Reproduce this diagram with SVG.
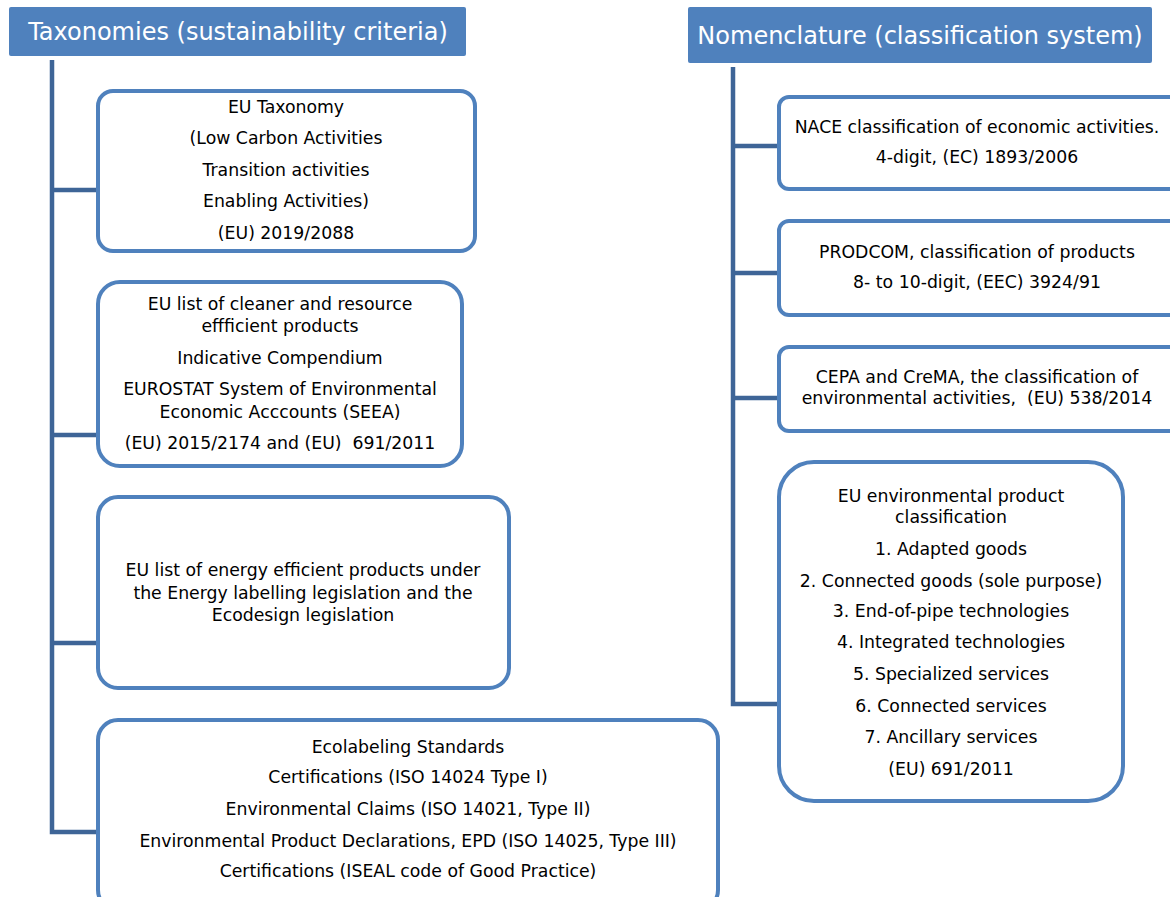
<svg xmlns="http://www.w3.org/2000/svg" width="1170" height="897" viewBox="0 0 1170 897">
<style>
.hdr{fill:#4F81BD}
.hdrt{fill:#fff;font-family:"DejaVu Sans","Open Sans",sans-serif;font-size:24px;text-anchor:middle}
.box{fill:#fff;stroke:#4F81BD;stroke-width:4}
.t{fill:#000;font-family:"DejaVu Sans","Open Sans",sans-serif;font-size:17.3px;text-anchor:middle}
.con{fill:none;stroke:#3E6597;stroke-width:4.5}
</style>
<rect width="1170" height="897" fill="#fff"/>
<g id="connectors">
<path class="con" d="M52,60 V832 H98"/>
<path class="con" d="M52,190 H98 M52,435 H98 M52,643 H98"/>
<path class="con" d="M733,67 V704 H779"/>
<path class="con" d="M733,146 H779 M733,273 H779 M733,398 H779"/>
</g>
<g id="hdr-left">
<rect class="hdr" x="9" y="7" width="457" height="49" rx="2"/>
<text class="hdrt" x="238" y="40">Taxonomies (sustainability criteria)</text>
</g>
<g id="hdr-right">
<rect class="hdr" x="688" y="7" width="464" height="56" rx="2"/>
<text class="hdrt" x="920" y="44">Nomenclature (classification system)</text>
</g>
<g id="eu-taxonomy">
<rect class="box" x="98" y="91" width="377" height="160" rx="15"/>
<text class="t" x="286" y="113">EU Taxonomy</text>
<text class="t" x="286" y="144">(Low Carbon Activities</text>
<text class="t" x="286" y="176">Transition activities</text>
<text class="t" x="286" y="207">Enabling Activities)</text>
<text class="t" x="286" y="239">(EU) 2019/2088</text>
</g>
<g id="eu-cleaner">
<rect class="box" x="98" y="282" width="364" height="184" rx="22"/>
<text class="t" x="280" y="310">EU list of cleaner and resource</text>
<text class="t" x="280" y="332">effficient products</text>
<text class="t" x="280" y="364">Indicative Compendium</text>
<text class="t" x="280" y="395">EUROSTAT System of Environmental</text>
<text class="t" x="280" y="418">Economic Acccounts (SEEA)</text>
<text class="t" x="280" y="449" xml:space="preserve">(EU) 2015/2174 and (EU)  691/2011</text>
</g>
<g id="eu-energy">
<rect class="box" x="98" y="497" width="411" height="191" rx="20"/>
<text class="t" x="303" y="576">EU list of energy efficient products under</text>
<text class="t" x="303" y="599">the Energy labelling legislation and the</text>
<text class="t" x="303" y="621">Ecodesign legislation</text>
</g>
<g id="ecolabel">
<rect class="box" x="98" y="720" width="620" height="190" rx="20"/>
<text class="t" x="408" y="753">Ecolabeling Standards</text>
<text class="t" x="408" y="783">Certifications (ISO 14024 Type I)</text>
<text class="t" x="408" y="815">Environmental Claims (ISO 14021, Type II)</text>
<text class="t" x="408" y="847">Environmental Product Declarations, EPD (ISO 14025, Type III)</text>
<text class="t" x="408" y="877">Certifications (ISEAL code of Good Practice)</text>
</g>
<g id="nace">
<rect class="box" x="779" y="97" width="420" height="92" rx="10"/>
<text class="t" x="977" y="133">NACE classification of economic activities.</text>
<text class="t" x="977" y="163">4-digit, (EC) 1893/2006</text>
</g>
<g id="prodcom">
<rect class="box" x="779" y="221" width="420" height="94" rx="10"/>
<text class="t" x="977" y="258">PRODCOM, classification of products</text>
<text class="t" x="977" y="288">8- to 10-digit, (EEC) 3924/91</text>
</g>
<g id="cepa">
<rect class="box" x="779" y="347" width="420" height="84" rx="10"/>
<text class="t" x="977" y="383">CEPA and CreMA, the classification of</text>
<text class="t" x="977" y="404" xml:space="preserve">environmental activities,  (EU) 538/2014</text>
</g>
<g id="env-product">
<rect class="box" x="779" y="462" width="344" height="339" rx="35"/>
<text class="t" x="951" y="502">EU environmental product</text>
<text class="t" x="951" y="523">classification</text>
<text class="t" x="951" y="555">1. Adapted goods</text>
<text class="t" x="951" y="587">2. Connected goods (sole purpose)</text>
<text class="t" x="951" y="617">3. End-of-pipe technologies</text>
<text class="t" x="951" y="648">4. Integrated technologies</text>
<text class="t" x="951" y="680">5. Specialized services</text>
<text class="t" x="951" y="712">6. Connected services</text>
<text class="t" x="951" y="743">7. Ancillary services</text>
<text class="t" x="951" y="775">(EU) 691/2011</text>
</g>
</svg>
